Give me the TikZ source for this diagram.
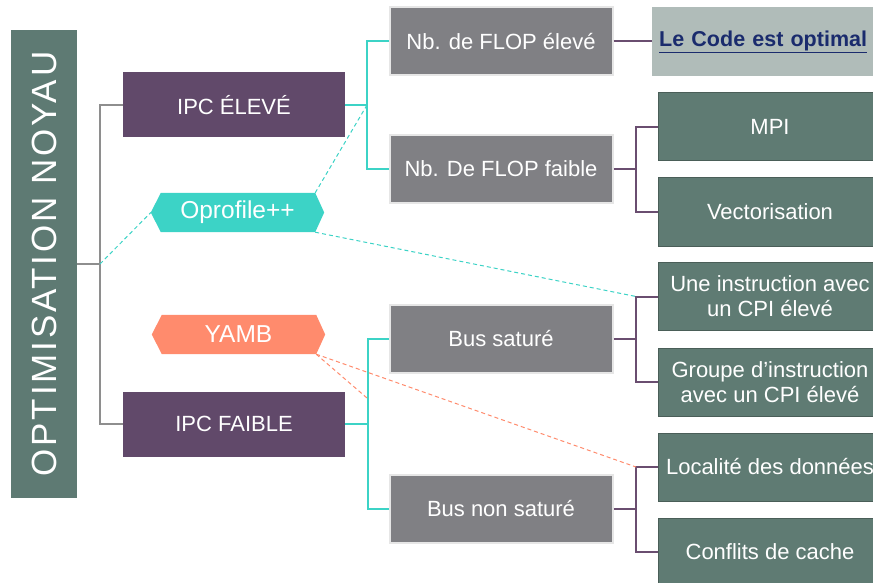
\documentclass[tikz,border=0pt]{standalone}
\usepackage{fontspec}
\setmainfont{Liberation Sans}
\usetikzlibrary{backgrounds,calc}
\definecolor{barc}{HTML}{5E7A73}
\definecolor{purp}{HTML}{61496A}
\definecolor{grayb}{HTML}{808084}
\definecolor{grayborder}{HTML}{E6E6E6}
\definecolor{greenb}{HTML}{5F7B73}
\definecolor{greenborder}{HTML}{4A5E58}
\definecolor{tealc}{HTML}{3CD3C6}
\definecolor{salmon}{HTML}{FF8B6D}
\definecolor{purpline}{HTML}{6A4E70}
\definecolor{grayline}{HTML}{8E8E8E}
\definecolor{optc}{HTML}{B0BCB9}
\definecolor{navy}{HTML}{1A2B6D}
\begin{document}
\begin{tikzpicture}[x=1pt,y=-1pt,
  base/.style={text=white, font=\fontsize{22}{25}\selectfont, inner sep=0pt, align=center},
  rootbox/.style={base, fill=barc, minimum width=66, minimum height=468, font=\fontsize{35}{40}\selectfont},
  purplebox/.style={base, fill=purp, minimum width=222, minimum height=65},
  graybox/.style={base, fill=grayb, draw=grayborder, line width=2pt, minimum width=223, minimum height=68},
  greenbox/.style={base, fill=greenb, draw=greenborder, line width=1pt, minimum width=224, minimum height=68},
  hexnode/.style={base, minimum width=173, minimum height=39, font=\fontsize{24.5}{28}\selectfont},
  optbox/.style={base, fill=optc, text=navy, font=\fontsize{21.5}{25}\selectfont\bfseries, anchor=west, text width=214, inner xsep=7pt, minimum height=69, align=left},
  grayl/.style={draw=grayline, line width=2pt},
  teall/.style={draw=tealc, line width=2pt},
  purpl/.style={draw=purpline, line width=2pt},
  tealdash/.style={draw=tealc, line width=1pt, dash pattern=on 4pt off 3pt},
  salmondash/.style={draw=salmon, line width=1pt, dash pattern=on 4pt off 3pt}]
\useasboundingbox (0,0) rectangle (873,583);
\clip (0,0) rectangle (873,583);

\node[rootbox] (root) at (44,264) {\rotatebox{90}{\addfontfeature{LetterSpace=8}OPTIMISATION NOYAU}};
\node[purplebox] (ipch) at (234,105) {IPC ÉLEVÉ};
\node[purplebox] (ipcl) at (234,424) {IPC FAIBLE};
\node[hexnode] (op) at (237.5,212.5) {Oprofile++};
\node[hexnode] (ya) at (238.5,334.5) {YAMB};
\begin{scope}[on background layer]
\fill[tealc] (op.west) -- ([xshift=10pt]op.north west) -- ([xshift=-9pt]op.north east) -- (op.east) -- ([xshift=-9pt]op.south east) -- ([xshift=10pt]op.south west) -- cycle;
\fill[salmon] (ya.west) -- ([xshift=10pt]ya.north west) -- ([xshift=-9pt]ya.north east) -- (ya.east) -- ([xshift=-9pt]ya.south east) -- ([xshift=10pt]ya.south west) -- cycle;
\end{scope}
\coordinate (optr) at ([xshift=-9pt]op.north east);
\coordinate (opbr) at ([xshift=-9pt]op.south east);
\coordinate (yabr) at ([xshift=-9pt]ya.south east);

\node[graybox] (fh) at (501,41.5) {Nb. de FLOP élevé};
\node[graybox] (ff) at (501,169) {Nb. De FLOP faible};
\node[graybox] (bs) at (501,339) {Bus saturé};
\node[graybox] (bn) at (501,509) {Bus non saturé};

\node[optbox] (opt) at (652,41.5) {\underline{Le Code est optimal}};
\node[greenbox] (mpi) at (770,127) {MPI};
\node[greenbox] (vec) at (770,212) {Vectorisation};
\node[greenbox] (uni) at (770,296.5) {Une instruction avec\\un CPI élevé};
\node[greenbox] (grp) at (770,382) {Groupe d’instruction\\avec un CPI élevé};
\node[greenbox] (loc) at (770,467) {Localité des données};
\node[greenbox] (con) at (770,552) {Conflits de cache};

\coordinate (rj) at (100,264);
\coordinate (tj1) at (367,105);
\coordinate (tj2) at (368,424);
\coordinate (j1) at (636,169);
\coordinate (j2) at (636,339);
\coordinate (j3) at (636,509);
\coordinate (ydash) at (367,398);

\draw[grayl] (root.east) -- (rj);
\draw[grayl] (ipch.west) -| (rj) |- (ipcl.west);
\draw[teall] (ipch.east) -- (tj1);
\draw[teall] (fh.west) -| (tj1) |- (ff.west);
\draw[teall] (ipcl.east) -- (tj2);
\draw[teall] (bs.west) -| (tj2) |- (bn.west);
\draw[purpl] (fh.east) -- (opt.west);
\draw[purpl] (ff.east) -- (j1);
\draw[purpl] (mpi.west) -| (j1) |- (vec.west);
\draw[purpl] (bs.east) -- (j2);
\draw[purpl] (uni.west) -| (j2) |- (grp.west);
\draw[purpl] (bn.east) -- (j3);
\draw[purpl] (loc.west) -| (j3) |- (con.west);

\draw[tealdash] (rj) -- (op.west);
\draw[tealdash] (optr) -- (tj1);
\draw[tealdash] (opbr) -- (j2 |- uni.west);
\draw[salmondash] (yabr) -- (ydash);
\draw[salmondash] (yabr) -- (j3 |- loc.west);
\end{tikzpicture}
\end{document}
